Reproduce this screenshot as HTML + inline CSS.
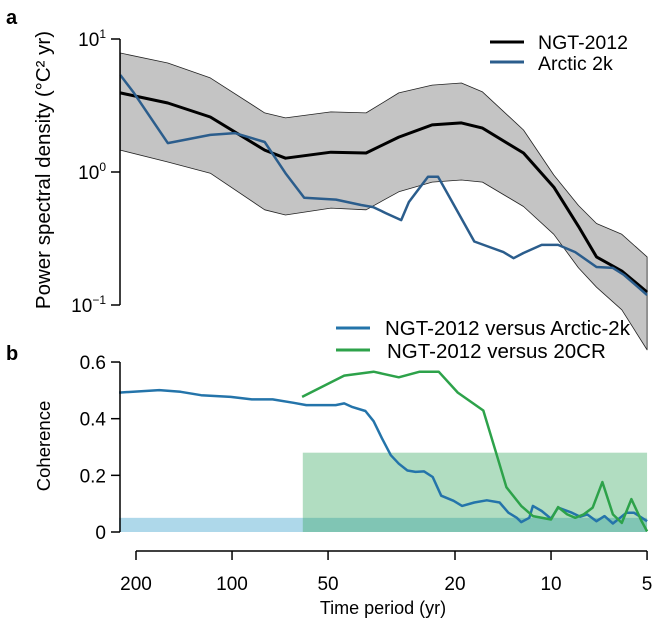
<!DOCTYPE html>
<html><head><meta charset="utf-8"><style>
body{margin:0;background:#fff}
svg{display:block;font-family:"Liberation Sans",Arial,sans-serif}
</style></head><body>
<svg id="c" width="657" height="627" viewBox="0 0 657 627"></svg>
<script>
// Panel a data
const psdPeriods=[224,159,117,79,68,49,38,30,23.6,19.1,16.4,12.2,9.8,8.2,7.2,6.0,5.0];
const ngtPsd=[3.93,3.30,2.59,1.46,1.27,1.41,1.39,1.83,2.26,2.34,2.14,1.39,0.77,0.39,0.23,0.18,0.125];
const bandUpper=[7.85,6.6,5.1,2.78,2.55,2.83,2.78,3.93,4.5,4.67,4.0,2.07,0.95,0.56,0.41,0.34,0.23];
const bandLower=[1.46,1.19,0.98,0.52,0.475,0.535,0.52,0.71,0.84,0.87,0.84,0.55,0.34,0.19,0.136,0.092,0.046];
const arcticPeriods=[224,203,159,117,98,79,68,59.4,47.2,39.4,36.1,32.9,29.5,27.9,24.3,22.6,20.6,17.4,15.6,14.1,13.1,12.2,10.7,9.5,8.4,7.2,6.4,5.9,5.0];
const arcticPsd=[5.36,3.93,1.65,1.90,1.96,1.68,0.98,0.64,0.62,0.565,0.545,0.49,0.435,0.595,0.92,0.92,0.62,0.30,0.273,0.25,0.225,0.246,0.283,0.283,0.25,0.193,0.19,0.168,0.119];
const psdTicks=[-1,0,1];
// Panel b data
const cohBluePeriods=[226,169,145,125,101,86.7,74.6,64.1,58.5,47.3,44.5,41.9,38.2,36.0,33.9,31.8,30.0,28.2,26.6,25.0,23.5,22.1,20.2,19.0,17.4,15.9,14.5,13.6,12.8,12.4,11.7,11.4,10.7,10.0,9.5,8.6,8.1,7.7,7.2,6.8,6.4,5.8,5.5,5.0];
const cohBlue=[0.492,0.501,0.495,0.483,0.477,0.468,0.468,0.456,0.448,0.448,0.454,0.441,0.427,0.391,0.331,0.271,0.241,0.217,0.212,0.214,0.194,0.128,0.110,0.092,0.104,0.112,0.104,0.068,0.050,0.035,0.050,0.092,0.074,0.047,0.086,0.068,0.054,0.062,0.038,0.056,0.030,0.068,0.068,0.038];
const cohGreenPeriods=[60.3,44.5,36.0,30.0,25.8,22.5,19.6,16.3,14.9,13.8,12.4,11.4,10.0,9.5,8.9,8.4,7.9,7.4,6.9,6.4,6.0,5.6,5.2,5.0];
const cohGreen=[0.477,0.552,0.566,0.546,0.566,0.566,0.492,0.429,0.283,0.158,0.092,0.056,0.044,0.088,0.062,0.050,0.062,0.086,0.176,0.062,0.032,0.116,0.038,0.002];
const cohTicks=[0,0.2,0.4,0.6];
const periodTicks=[200,100,50,20,10,5];
const blueSig=0.05, greenSig=0.28, greenStart=60, blueStart=226;

const NS="http://www.w3.org/2000/svg";
const svg=document.getElementById('c');
function mk(t,a,txt){const e=document.createElementNS(NS,t);for(const k in a)e.setAttribute(k,a[k]);if(txt!==undefined)e.textContent=txt;svg.appendChild(e);return e;}
const X=p=>136+(Math.log10(200)-Math.log10(p))*319;
const YA=v=>172-Math.log10(v)*133;
const YB=v=>532-v*283.3;
const pts=(xs,ys,fy)=>xs.map((p,i)=>X(p).toFixed(1)+','+fy(ys[i]).toFixed(1)).join(' ');

let e;
e=mk('text',{x:6,y:24,'font-size':20,'font-weight':'bold'},'a');

e=mk('text',{x:6,y:360,'font-size':20,'font-weight':'bold'},'b');


const bp=psdPeriods.map((p,i)=>X(p).toFixed(1)+','+YA(bandUpper[i]).toFixed(1)).concat(psdPeriods.map((p,i)=>X(p).toFixed(1)+','+YA(bandLower[i]).toFixed(1)).reverse()).join(' ');
e=mk('polygon',{points:bp,fill:'#c4c4c4',stroke:'#222','stroke-width':0.8,'stroke-linejoin':'round'});

e=mk('polyline',{points:pts(psdPeriods,ngtPsd,YA),fill:'none',stroke:'#000','stroke-width':3,'stroke-linejoin':'round'});

e=mk('polyline',{points:pts(arcticPeriods,arcticPsd,YA),fill:'none',stroke:'#2b5d8c','stroke-width':2.5,'stroke-linejoin':'round'});


e=mk('line',{x1:120,y1:YA(10),x2:120,y2:YA(0.1),stroke:'#000','stroke-width':1.5});

psdTicks.forEach(t=>{const y=YA(Math.pow(10,t));
 const l=mk('line',{x1:111,y1:y,x2:120,y2:y,stroke:'#000','stroke-width':1.5});
 
 const tx=mk('text',{x:106,y:y+7,'font-size':19,'text-anchor':'end'});
 
 tx.innerHTML='10<tspan dy="-8" font-size="12">'+(t<0?'−1':t)+'</tspan>';
});
e=mk('text',{x:0,y:0,'font-size':20.5,'text-anchor':'middle',transform:'translate(50,170) rotate(-90)'},'Power spectral density (°C² yr)');


e=mk('line',{x1:490,y1:42,x2:524,y2:42,stroke:'#000','stroke-width':3});

e=mk('text',{x:538,y:49,'font-size':19.5},'NGT-2012');

e=mk('line',{x1:490,y1:62,x2:524,y2:62,stroke:'#2b5d8c','stroke-width':3});

e=mk('text',{x:538,y:70,'font-size':19.5},'Arctic 2k');


e=mk('rect',{x:X(blueStart),y:YB(blueSig),width:X(5)-X(blueStart),height:YB(0)-YB(blueSig),fill:'rgba(120,190,220,0.6)'});

e=mk('rect',{x:X(greenStart),y:YB(greenSig),width:X(5)-X(greenStart),height:YB(0)-YB(greenSig),fill:'rgba(60,170,100,0.4)'});

e=mk('polyline',{points:pts(cohBluePeriods,cohBlue,YB),fill:'none',stroke:'#2474aa','stroke-width':2.5,'stroke-linejoin':'round'});

e=mk('polyline',{points:pts(cohGreenPeriods,cohGreen,YB),fill:'none',stroke:'#2da24a','stroke-width':2.5,'stroke-linejoin':'round'});


e=mk('line',{x1:120,y1:YB(0.6),x2:120,y2:YB(0),stroke:'#000','stroke-width':1.5});

cohTicks.forEach(t=>{const y=YB(t);
 const l=mk('line',{x1:111,y1:y,x2:120,y2:y,stroke:'#000','stroke-width':1.5});
 
 const tx=mk('text',{x:106,y:y+7,'font-size':19,'text-anchor':'end'},t===0?'0':t.toFixed(1));
 
});
e=mk('text',{x:0,y:0,'font-size':18.5,'text-anchor':'middle',transform:'translate(50,446) rotate(-90)'},'Coherence');


e=mk('line',{x1:X(200),y1:551,x2:X(5),y2:551,stroke:'#000','stroke-width':1.5});

periodTicks.forEach(t=>{const x=X(t);
 const l=mk('line',{x1:x,y1:551,x2:x,y2:560,stroke:'#000','stroke-width':1.5});
 
 const tx=mk('text',{x:x,y:590,'font-size':19,'text-anchor':'middle'},String(t));
 
});
e=mk('text',{x:383,y:614,'font-size':18,'text-anchor':'middle'},'Time period (yr)');


e=mk('line',{x1:336,y1:328,x2:370,y2:328,stroke:'#2474aa','stroke-width':3});

e=mk('text',{x:385,y:335,'font-size':20.5},'NGT-2012 versus Arctic-2k');

e=mk('line',{x1:336,y1:350,x2:370,y2:350,stroke:'#2da24a','stroke-width':3});

e=mk('text',{x:387,y:358,'font-size':20.5},'NGT-2012 versus 20CR');

</script>
</body></html>
